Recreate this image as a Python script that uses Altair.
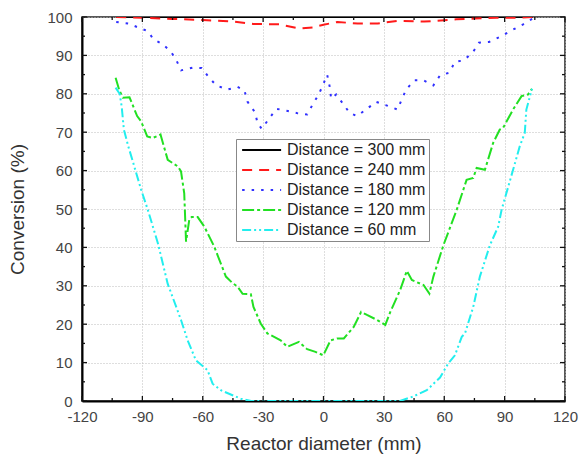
import altair as alt
import pandas as pd

series_names = ["Distance = 300 mm", "Distance = 240 mm", "Distance = 180 mm",
                "Distance = 120 mm", "Distance = 60 mm"]
series_colors = ["#000000", "#ff1a1a", "#3030ff", "#22e022", "#22eeee"]
series_dashes = [[1, 0], [10, 7], [2.5, 7], [12, 3, 3, 3], [9, 3, 2, 3, 2, 3]]

d300_x = [-103, 104]
d300_y = [100, 100]

d240_x = [-103, -90, -75, -60, -45, -35, -22, -12, -5, 0, 7, 17, 27, 37, 50, 66, 75, 86, 95, 104]
d240_y = [100, 99.8, 99.5, 99.2, 98.8, 98.2, 98.1, 97.0, 97.3, 98.0, 98.7, 98.3, 98.3, 99.0,
          98.8, 99.4, 99.6, 99.8, 99.8, 100]

d180_x = [-103, -97, -91.7, -87.3, -84.5, -79.9, -75.7, -72.9, -70.8, -65, -60.5, -57, -53.3,
          -47.7, -42.7, -39.3, -37.8, -36.1, -34, -32.8, -30.7, -27.1, -23.4, -18.3, -12.7,
          -8.1, -5.3, -2.3, 0.2, 1.8, 3.1, 3.8, 6.3, 9.6, 13, 16.7, 21.6, 26.2, 31.2, 36.8,
          39, 41.1, 45, 49.7, 54.6, 57.9, 62.5, 65.3, 69.5, 74.1, 77.2, 82.3, 87.6, 93.4,
          99.2, 104]
d180_y = [98.7, 98.3, 97.2, 96.3, 94.2, 92.9, 90.9, 88.5, 86.1, 86.8, 86.7, 84.3, 82.2,
          81.1, 81.8, 80.9, 78, 76.6, 75.2, 72.4, 70.9, 73.5, 76.1, 75.6, 74.9,
          74.6, 77.3, 79.9, 82.9, 85, 81.8, 78.7, 79.8, 77.5, 75, 74.2, 76.1, 77.9, 77, 75.9,
          78.7, 81.1, 83.5, 83.5, 82.2, 84.8, 85.5, 88.3, 88.7, 90.7, 93.3, 93.5, 94.8, 96.5,
          98.1, 99.6]

d120_x = [-103.3, -101.5, -99.7, -96.4, -92.6, -90.6, -87.6, -84.8, -81, -77.4,
          -72.4, -70.8, -69.2, -68.3, -66.7, -65.5, -62.5, -59.2, -54.3, -48.5,
          -45.2, -42.7, -40.2, -36.1, -34.8, -31.2, -27.9, -21.3, -18, -12.2,
          -8.1, -4, -0.1, 3.5, 6.8, 10.1, 15, 18.7, 21.6, 26.6,
          30.7, 33.2, 38.1, 41.4, 43.9, 49.7, 52.6, 54.6, 59.6, 63.7,
          66.2, 71.1, 74.4, 76.1, 80.2, 84.3, 87.6, 89.2, 94.2, 98.4,
          101.6, 103.6]
d120_y = [84.2, 81, 79, 79.1, 74.2, 72.8, 68.9, 68.5, 69.4, 62.8,
          61.1, 59.8, 54.1, 41.5, 47.2, 47.9, 47.9, 45.4, 40.2, 32.4,
          30.7, 29.8, 27.9, 27.8, 24.5, 20.2, 17.6, 15.8, 14.1, 15.4,
          13.5, 12.8, 11.9, 15.8, 16.3, 16.3, 19.3, 23.2, 22.4, 21.1,
          19.8, 23.2, 28.9, 33.9, 31.5, 30.2, 28, 32.4, 40.6, 46.3,
          49.8, 57.6, 58.1, 60.7, 60.2, 67.2, 70.7, 71.1, 75.9, 79.4,
          79.8, 81.3]

d60_x = [-103.3, -101.3, -100.3, -99.2, -97, -95.5, -90.6, -87.3, -82.3, -77.4,
         -70.8, -67.5, -63.4, -57.6, -55.1, -51, -45.2, -41.1, -36, -20,
         0, 20, 38, 44.7, 51.3, 57.9, 62, 65.3, 68.7, 70.3,
         74.4, 77.7, 82.7, 86.8, 88.5, 94.2, 97.5, 100, 100.8, 103.6]
d60_y = [81.6, 80, 76.8, 70.7, 66.3, 63.7, 55, 49.8, 41.1, 30.5,
         21.1, 15.8, 10.6, 8, 4.5, 2.8, 1.5, 0.6, 0, 0,
         0, 0, 0, 1.2, 2.8, 6.1, 9.8, 11.9, 16.7, 17.6,
         24.5, 32.4, 40.6, 45.4, 49.8, 60.2, 66.3, 69.8, 75.9, 81.3]

x_major = [-120, -90, -60, -30, 0, 30, 60, 90, 120]
x_minor = [-105, -75, -45, -15, 15, 45, 75, 105]
y_major = [0, 10, 20, 30, 40, 50, 60, 70, 80, 90, 100]
y_minor = [5, 15, 25, 35, 45, 55, 65, 75, 85, 95]

W, H = 483, 384
FONT = "Liberation Sans"

rows = []
for name, xs, ys in zip(series_names,
                        [d300_x, d240_x, d180_x, d120_x, d60_x],
                        [d300_y, d240_y, d180_y, d120_y, d60_y]):
    assert len(xs) == len(ys)
    for i, (a, b) in enumerate(zip(xs, ys)):
        rows.append({"series": name, "x": a, "y": b, "i": i})
df = pd.DataFrame(rows)

xscale = alt.Scale(domain=[-120, 120], nice=False, zero=False)
yscale = alt.Scale(domain=[0, 100], nice=False)

xaxis = alt.Axis(values=x_major, labelExpr="'' + datum.value", ticks=False, grid=True,
                 labelOverlap=False, labelFlush=False,
                 domain=True, domainColor="#000", domainWidth=2,
                 labelPadding=8, titlePadding=10)
yaxis = alt.Axis(values=y_major, labelExpr="'' + datum.value", ticks=False, grid=True,
                 labelOverlap=False, labelFlush=False,
                 domain=True, domainColor="#000", domainWidth=2,
                 labelPadding=10, titlePadding=19)
XT = "Reactor diameter (mm)"
YT = "Conversion (%)"

legend = alt.Legend(
    orient="none", legendX=154, legendY=122, title=None,
    symbolType="M-1,0L7,0", symbolSize=95, symbolStrokeWidth=2,
    labelFont=FONT, labelFontSize=16, labelColor="#222", labelOffset=32,
    rowPadding=4, padding=3, strokeColor="#888", fillColor="white",
    labelLimit=300,
)

lines = alt.Chart(df).mark_line(clip=True, strokeWidth=2).encode(
    x=alt.X("x:Q", scale=xscale, title=XT, axis=xaxis),
    y=alt.Y("y:Q", scale=yscale, title=YT, axis=yaxis),
    color=alt.Color("series:N", scale=alt.Scale(domain=series_names, range=series_colors),
                    legend=legend),
    strokeDash=alt.StrokeDash("series:N", scale=alt.Scale(domain=series_names, range=series_dashes),
                              legend=legend),
    order="i:Q",
)


def xticks(vals, length, top):
    d = pd.DataFrame({"x": vals})
    if top:
        yy, yy2 = 0, length
    else:
        yy, yy2 = H, H - length
    return alt.Chart(d).mark_rule(color="#111", strokeWidth=1.3).encode(
        x=alt.X("x:Q", scale=xscale, title=XT, axis=xaxis),
        y=alt.value(yy), y2=alt.value(yy2))


def yticks(vals, length, right):
    d = pd.DataFrame({"y": vals})
    if right:
        xx, xx2 = W, W - length
    else:
        xx, xx2 = 0, length
    return alt.Chart(d).mark_rule(color="#111", strokeWidth=1.3).encode(
        y=alt.Y("y:Q", scale=yscale, title=YT, axis=yaxis),
        x=alt.value(xx), x2=alt.value(xx2))


tick_layers = [
    xticks(x_major, 5, False), xticks(x_minor, 3, False),
    xticks(x_major, 5, True), xticks(x_minor, 3, True),
    yticks(y_major, 5, False), yticks(y_minor, 3, False),
    yticks(y_major, 5, True), yticks(y_minor, 3, True),
]

chart = alt.layer(lines, *tick_layers).properties(
    width=W, height=H,
    padding={"left": 82, "top": 17, "right": 15, "bottom": 55},
    autosize=alt.AutoSizeParams(type="none"),
    background="white",
).configure_view(
    stroke="#222", strokeWidth=1.5,
).configure_axis(
    labelFont=FONT, labelFontSize=15, labelColor="#444",
    titleFont=FONT, titleFontSize=19, titleColor="#333", titleFontWeight="normal",
    gridColor="#bdbdbd", gridDash=[1, 2], gridWidth=1,
)

chart.save("out.html", embed_options={"renderer": "svg", "actions": False})
